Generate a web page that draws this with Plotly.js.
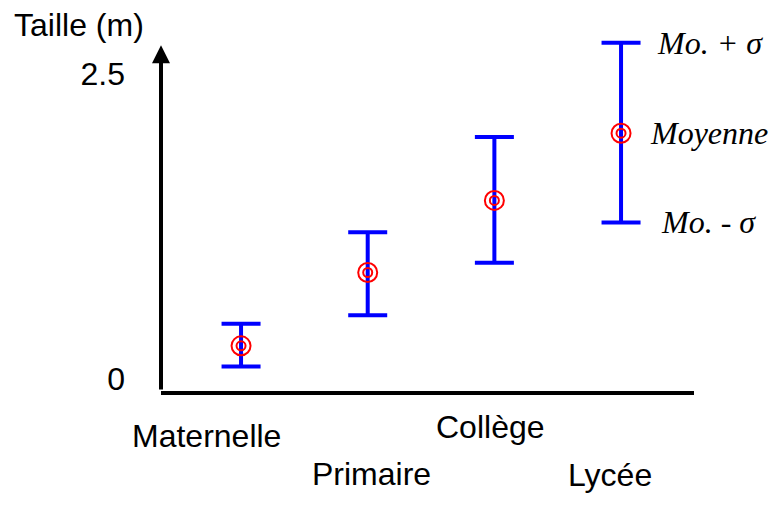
<!DOCTYPE html>
<html>
<head>
<meta charset="utf-8">
<script src="https://cdn.plot.ly/plotly-3.0.1.min.js"></script>
<style>html,body{margin:0;padding:0;background:#fff;}#chart{width:771px;height:515px;}</style>
</head>
<body>
<div id="chart"></div>
<script>
// Data
var categories = ['Maternelle', 'Primaire', 'Collège', 'Lycée'];
var moyenne    = [0.37, 0.97, 1.56, 2.11];
var sigmaPlus  = [0.18, 0.33, 0.52, 0.74];
var sigmaMinus = [0.17, 0.35, 0.51, 0.73];
var yTickVals  = [0, 2.5];
var yTickText  = ['0', '2.5'];
var legendTexts = ['Mo. + σ', 'Moyenne', 'Mo. - σ'];

var sans = 'Liberation Sans, Arial, sans-serif';
var serif = 'Liberation Serif, Times New Roman, serif';
var xs = categories.map(function (c, i) { return i; });

var traces = [
  {
    type: 'scatter', mode: 'markers', x: xs, y: moyenne, cliponaxis: false,
    marker: {symbol: 'circle-open', size: 19, color: '#ff0000', line: {color: '#ff0000', width: 2}},
    error_y: {type: 'data', symmetric: false, array: sigmaPlus, arrayminus: sigmaMinus,
              color: '#0000ff', thickness: 4, width: 19.5},
    hoverinfo: 'skip'
  },
  {
    type: 'scatter', mode: 'markers', x: xs, y: moyenne, cliponaxis: false,
    marker: {symbol: 'circle-open', size: 9, color: '#ff0000', line: {color: '#ff0000', width: 2}},
    hoverinfo: 'skip'
  }
];

var annotations = [];
// y axis with arrow
annotations.push({xref: 'paper', x: 0, yref: 'y', y: 2.83, axref: 'pixel', ax: 0, ayref: 'y', ay: 0,
  text: '', showarrow: true, arrowhead: 2, arrowsize: 0.9, arrowwidth: 4, arrowcolor: '#000'});
// y axis title
annotations.push({xref: 'paper', x: 0, xshift: -82, xanchor: 'center', yref: 'paper', y: 1, yshift: 5,
  yanchor: 'middle', text: 'Taille (m)', showarrow: false, font: {family: sans, size: 32, color: '#000'}});
// category labels (staggered)
var labelShift = [[-34.5, -44.5], [4, -83], [-4, -35.5], [-11, -84]];
categories.forEach(function (c, i) {
  annotations.push({xref: 'x', x: xs[i], xanchor: 'center', xshift: labelShift[i][0],
    yref: 'paper', y: 0, yanchor: 'middle', yshift: labelShift[i][1],
    text: c, showarrow: false, font: {family: sans, size: 32, color: '#000'}});
});
// legend texts next to the last bar
var li = categories.length - 1;
var legendY = [moyenne[li] + sigmaPlus[li], moyenne[li], moyenne[li] - sigmaMinus[li]];
var legendDx = [34, 27, 38];
legendTexts.forEach(function (t, k) {
  annotations.push({xref: 'x', x: xs[li], xanchor: 'left', xshift: legendDx[k],
    yref: 'y', y: legendY[k], yanchor: 'middle', text: '<i>' + t + '</i>', showarrow: false,
    font: {family: serif, size: 32, color: '#000'}});
});

var layout = {
  width: 771, height: 515,
  margin: {l: 161, r: 77, t: 30, b: 124, pad: 0},
  paper_bgcolor: '#fff', plot_bgcolor: '#fff',
  showlegend: false,
  xaxis: {range: [-0.632, 3.576], showgrid: false, zeroline: false, showticklabels: false, ticks: '',
          showline: true, linewidth: 4, linecolor: '#000', fixedrange: true},
  yaxis: {range: [0, 2.955], showgrid: false, zeroline: false, showline: false, ticks: '',
          tickmode: 'array', tickvals: yTickVals, ticktext: yTickText,
          ticklabelstandoff: 35, ticklabelshift: -12,
          tickfont: {family: sans, size: 32, color: '#000'}, fixedrange: true},
  annotations: annotations
};

Plotly.newPlot('chart', traces, layout, {displayModeBar: false, staticPlot: true});
</script>
</body>
</html>
